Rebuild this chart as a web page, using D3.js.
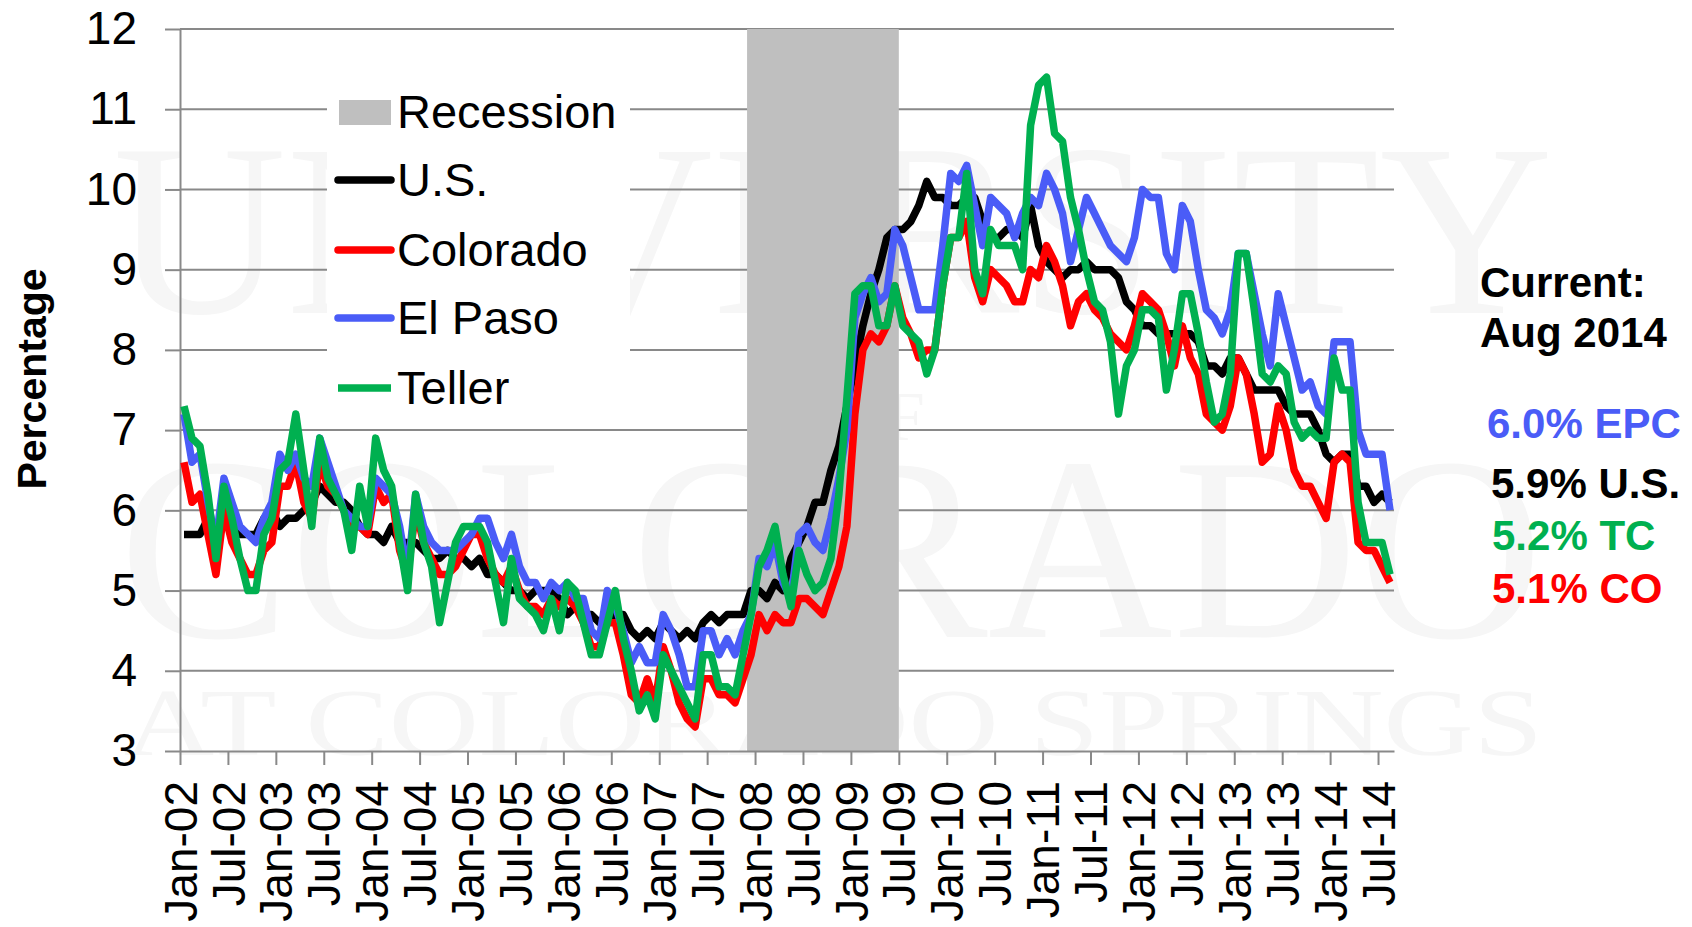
<!DOCTYPE html>
<html>
<head>
<meta charset="utf-8">
<script src="https://cdn.jsdelivr.net/npm/d3@7"></script>
<style>
  body { margin: 0; background: #fff; }
  svg { display: block; font-family: "Liberation Sans", Arial, sans-serif; }
</style>
</head>
<body>
<div id="chart"></div>
<script>
// month index 0 = Jan-02 ... 151 = Aug-14
const tickLabels = ["Jan-02", "Jul-02", "Jan-03", "Jul-03", "Jan-04", "Jul-04", "Jan-05", "Jul-05",
    "Jan-06", "Jul-06", "Jan-07", "Jul-07", "Jan-08", "Jul-08", "Jan-09", "Jul-09", "Jan-10", "Jul-10",
    "Jan-11", "Jul-11", "Jan-12", "Jul-12", "Jan-13", "Jul-13", "Jan-14", "Jul-14"];

const usRate = [
    5.7, 5.7, 5.7, 5.9, 5.8, 5.8, 5.8, 5.7, 5.7, 5.7, 5.9, 6.0,
    5.8, 5.9, 5.9, 6.0, 6.1, 6.3, 6.2, 6.1, 6.1, 6.0, 5.8, 5.7,
    5.7, 5.6, 5.8, 5.6, 5.6, 5.6, 5.5, 5.4, 5.4, 5.5, 5.4, 5.4,
    5.3, 5.4, 5.2, 5.2, 5.1, 5.0, 5.0, 4.9, 5.0, 5.0, 5.0, 4.9,
    4.7, 4.8, 4.7, 4.7, 4.6, 4.6, 4.7, 4.7, 4.5, 4.4, 4.5, 4.4,
    4.6, 4.5, 4.4, 4.5, 4.4, 4.6, 4.7, 4.6, 4.7, 4.7, 4.7, 5.0,
    5.0, 4.9, 5.1, 5.0, 5.4, 5.6, 5.8, 6.1, 6.1, 6.5, 6.8, 7.3,
    7.8, 8.3, 8.7, 9.0, 9.4, 9.5, 9.5, 9.6, 9.8, 10.1, 9.9, 9.9,
    9.8, 9.8, 9.9, 9.9, 9.6, 9.4, 9.4, 9.5, 9.5, 9.4, 9.8, 9.3,
    9.1, 9.0, 8.9, 9.0, 9.0, 9.1, 9.0, 9.0, 9.0, 8.9, 8.6, 8.5,
    8.3, 8.3, 8.2, 8.2, 8.2, 8.2, 8.2, 8.1, 7.8, 7.8, 7.7, 7.9,
    7.9, 7.7, 7.5, 7.5, 7.5, 7.5, 7.3, 7.2, 7.2, 7.2, 7.0, 6.7,
    6.6, 6.7, 6.7, 6.3, 6.3, 6.1, 6.2, 6.1
];

const coloradoRate = [
    6.6, 6.1, 6.2, 5.7, 5.2, 6.0, 5.6, 5.4, 5.2, 5.2, 5.5, 5.6,
    6.3, 6.3, 6.6, 6.1, 5.9, 6.6, 6.3, 6.2, 6.0, 5.8, 5.8, 5.7,
    6.3, 6.1, 6.2, 5.5, 5.2, 6.0, 5.6, 5.4, 5.2, 5.2, 5.3, 5.5,
    5.7, 5.7, 5.4, 5.2, 5.1, 5.3, 5.0, 4.8, 4.8, 4.7, 4.9, 4.8,
    4.9, 4.8, 4.6, 4.3, 4.3, 4.6, 4.6, 4.2, 3.7, 3.6, 3.9, 3.6,
    4.3, 4.0, 3.6, 3.4, 3.3, 3.9, 3.9, 3.7, 3.7, 3.6, 3.9, 4.2,
    4.7, 4.5, 4.7, 4.6, 4.6, 4.9, 4.9, 4.8, 4.7, 5.0, 5.3, 5.8,
    7.2, 8.0, 8.2, 8.1, 8.3, 8.8, 8.4, 8.2, 7.9, 8.0, 8.0, 8.8,
    9.4, 9.4, 9.6, 8.9, 8.6, 9.0, 8.9, 8.8, 8.6, 8.6, 9.0, 8.9,
    9.3, 9.1, 8.8, 8.3, 8.6, 8.7, 8.5, 8.4, 8.2, 8.1, 8.0, 8.3,
    8.7, 8.6, 8.5, 8.2, 7.8, 8.3, 7.9, 7.7, 7.2, 7.1, 7.0, 7.3,
    7.9, 7.7, 7.2, 6.6, 6.7, 7.3, 7.0, 6.5, 6.3, 6.3, 6.1, 5.9,
    6.6, 6.7, 6.6, 5.6, 5.5, 5.5, 5.3, 5.1
];

const elPasoRate = [
    7.2, 6.6, 6.7, 6.1, 5.6, 6.4, 6.1, 5.8, 5.7, 5.6, 5.9, 6.1,
    6.7, 6.5, 6.7, 6.4, 6.3, 6.9, 6.6, 6.3, 6.0, 5.9, 5.8, 5.8,
    6.4, 6.3, 6.2, 5.8, 5.2, 6.2, 5.8, 5.6, 5.5, 5.5, 5.5, 5.6,
    5.7, 5.9, 5.9, 5.6, 5.4, 5.7, 5.3, 5.1, 5.1, 4.9, 5.1, 5.0,
    5.1, 4.9, 4.9, 4.5, 4.4, 5.0, 4.8, 4.5, 4.1, 4.3, 4.1, 4.1,
    4.7, 4.5, 4.2, 3.8, 3.8, 4.5, 4.5, 4.2, 4.4, 4.2, 4.5, 4.7,
    5.4, 5.3, 5.6, 5.1, 4.9, 5.7, 5.8, 5.6, 5.5, 5.9, 6.4, 7.0,
    8.4, 8.7, 8.9, 8.6, 8.7, 9.5, 9.3, 8.9, 8.5, 8.5, 8.5, 9.3,
    10.2, 10.1, 10.3, 9.8, 9.3, 9.9, 9.8, 9.7, 9.4, 9.7, 9.9, 9.8,
    10.2, 10.0, 9.7, 9.1, 9.5, 9.9, 9.7, 9.5, 9.3, 9.2, 9.1, 9.4,
    10.0, 9.9, 9.9, 9.2, 9.0, 9.8, 9.6, 9.0, 8.5, 8.4, 8.2, 8.5,
    9.2, 9.2, 8.7, 8.2, 7.8, 8.7, 8.3, 7.9, 7.5, 7.6, 7.3, 7.2,
    8.1, 8.1, 8.1, 7.0, 6.7, 6.7, 6.7, 6.0
];

const tellerRate = [
    7.3, 6.9, 6.8, 6.2, 5.4, 6.3, 5.9, 5.4, 5.0, 5.0, 5.7, 5.9,
    6.5, 6.6, 7.2, 6.5, 5.8, 6.9, 6.4, 6.2, 6.0, 5.5, 6.3, 5.8,
    6.9, 6.5, 6.3, 5.6, 5.0, 6.2, 5.6, 5.3, 4.6, 5.1, 5.6, 5.8,
    5.8, 5.8, 5.6, 5.1, 4.6, 5.4, 4.9, 4.8, 4.7, 4.5, 4.9, 4.5,
    5.1, 5.0, 4.6, 4.2, 4.2, 4.6, 5.0, 4.4, 4.0, 3.5, 3.7, 3.4,
    4.2, 4.0, 3.8, 3.6, 3.4, 4.2, 4.2, 3.8, 3.8, 3.7, 4.2, 4.7,
    5.3, 5.5, 5.8, 5.2, 4.8, 5.5, 5.2, 5.0, 5.1, 5.4, 6.2, 7.4,
    8.7, 8.8, 8.8, 8.3, 8.3, 8.8, 8.3, 8.2, 8.1, 7.7, 8.0, 8.8,
    9.4, 9.4, 10.2, 9.0, 8.7, 9.5, 9.3, 9.3, 9.3, 9.0, 10.8, 11.3,
    11.4, 10.7, 10.6, 9.9, 9.5, 9.0, 8.6, 8.5, 8.1, 7.2, 7.8, 8.0,
    8.5, 8.5, 8.4, 7.5, 8.0, 8.7, 8.7, 8.2, 7.6, 7.1, 7.2, 7.7,
    9.2, 9.2, 8.5, 7.7, 7.6, 7.8, 7.7, 7.1, 6.9, 7.0, 6.9, 6.9,
    7.9, 7.5, 7.5, 6.1, 5.6, 5.6, 5.6, 5.2
];

// Dec-07 through Jun-09
const recessionMonths = [71, 89];

const seriesNames = ["U.S.", "Colorado", "El Paso", "Teller"];
const currentLabels = ["6.0% EPC", "5.9% U.S.", "5.2% TC", "5.1% CO"];

const colors = { us: "#000000", co: "#ff0000", ep: "#4a5cf7", tc: "#00b050" };
const series = [
    { name: seriesNames[0], values: usRate, color: colors.us },
    { name: seriesNames[1], values: coloradoRate, color: colors.co },
    { name: seriesNames[2], values: elPasoRate, color: colors.ep },
    { name: seriesNames[3], values: tellerRate, color: colors.tc }
];

const width = 1692, height = 927;
const gridColor = "#898989";

const svg = d3.select("#chart").append("svg")
    .attr("width", width)
    .attr("height", height);

svg.append("rect").attr("width", width).attr("height", height).attr("fill", "#fff");

// faint university watermark behind the chart
const mark = svg.append("g")
    .attr("fill", "#f6f6f6")
    .style("font-family", "'Liberation Serif', 'DejaVu Serif', serif");
mark.append("text").attr("x", 113).attr("y", 313).attr("font-size", 245)
    .attr("textLength", 1440).attr("lengthAdjust", "spacingAndGlyphs").text("UNIVERSITY");
mark.append("text").attr("x", 880).attr("y", 440).attr("font-size", 70)
    .attr("text-anchor", "middle").text("OF");
mark.append("text").attr("x", 119).attr("y", 637).attr("font-size", 262)
    .attr("textLength", 1424).attr("lengthAdjust", "spacingAndGlyphs").text("COLORADO");
mark.append("text").attr("x", 124).attr("y", 755).attr("font-size", 95)
    .attr("textLength", 1419).attr("lengthAdjust", "spacingAndGlyphs").text("AT COLORADO SPRINGS");

// one slot per month (Jan-02 .. Aug-14), points sit in the middle of their month
const x = d3.scaleLinear().domain([0, usRate.length]).range([180, 1394]);
const y = d3.scaleLinear().domain([3, 12]).range([751, 29]);

// gridlines
svg.append("g")
    .selectAll("line")
    .data(y.ticks(9).filter(d => d > 3))
    .join("line")
    .attr("x1", x.range()[0]).attr("x2", x.range()[1])
    .attr("y1", d => y(d)).attr("y2", d => y(d))
    .attr("stroke", gridColor)
    .attr("stroke-width", 2);

// recession band
svg.append("rect")
    .attr("x", x(recessionMonths[0]))
    .attr("width", x(recessionMonths[1] + 1) - x(recessionMonths[0]))
    .attr("y", y(12))
    .attr("height", y(3) - y(12))
    .attr("fill", "#bfbfbf");

// axes
const yaxis = d3.axisLeft(y).ticks(9).tickSize(15).tickSizeOuter(0).tickPadding(28);
const yg = svg.append("g")
    .attr("transform", `translate(${x(0)},0)`)
    .call(yaxis);
yg.selectAll("text").attr("font-size", 46).attr("fill", "#000")
    .style("font-family", "'Liberation Sans', Arial, sans-serif");

const xaxis = d3.axisBottom(x)
    .tickValues(d3.range(0, 151, 6))
    .tickFormat((d, i) => tickLabels[i])
    .tickSize(14)
    .tickSizeOuter(0);
const xg = svg.append("g")
    .attr("transform", `translate(0,${y(3)})`)
    .call(xaxis);
xg.selectAll("text")
    .attr("x", 0).attr("y", 0).attr("dy", "0.35em")
    .attr("text-anchor", "end")
    .attr("transform", "translate(0,30) rotate(-90)")
    .attr("font-size", 46).attr("fill", "#000")
    .style("font-family", "'Liberation Sans', Arial, sans-serif");

[yg, xg].forEach(g => {
    g.select(".domain").attr("stroke", gridColor).attr("stroke-width", 2);
    g.selectAll(".tick line").attr("stroke", gridColor).attr("stroke-width", 2);
});

// series lines
const line = d3.line()
    .x((d, i) => x(i + 0.5))
    .y(d => y(d));

svg.append("g")
    .selectAll("path")
    .data(series)
    .join("path")
    .attr("d", d => line(d.values))
    .attr("fill", "none")
    .attr("stroke", d => d.color)
    .attr("stroke-width", 7.5)
    .attr("stroke-linejoin", "round");

// axis title
svg.append("text")
    .attr("transform", "translate(32,379) rotate(-90)")
    .attr("text-anchor", "middle")
    .attr("dy", "0.35em")
    .attr("font-size", 41)
    .attr("font-weight", "bold")
    .text("Percentage");

// legend
const legend = svg.append("g");
legend.append("rect")
    .attr("x", 327).attr("y", 76).attr("width", 303).attr("height", 342)
    .attr("fill", "#fff");
legend.append("rect")
    .attr("x", 339).attr("y", 100).attr("width", 52).attr("height", 25)
    .attr("fill", "#bfbfbf");
legend.append("text")
    .attr("x", 397).attr("y", 112).attr("dy", "0.35em")
    .attr("font-size", 47).text("Recession");

const rowY = [180, 250, 318, 388];
series.forEach((s, i) => {
    legend.append("line")
        .attr("x1", 338).attr("x2", 391)
        .attr("y1", rowY[i]).attr("y2", rowY[i])
        .attr("stroke", s.color)
        .attr("stroke-width", 7.5)
        .attr("stroke-linecap", i === 3 ? "butt" : "round");
    legend.append("text")
        .attr("x", 397).attr("y", rowY[i]).attr("dy", "0.35em")
        .attr("font-size", 47).text(s.name);
});

// current values note
const note = svg.append("g").attr("font-weight", "bold").attr("font-size", 42);
note.append("text").attr("x", 1480).attr("y", 297).text("Current:");
note.append("text").attr("x", 1480).attr("y", 347).text("Aug 2014");

const noteRows = [
    { x: 1487, y: 438, color: colors.ep },
    { x: 1491, y: 498, color: colors.us },
    { x: 1492, y: 550, color: colors.tc },
    { x: 1492, y: 603, color: colors.co }
];
noteRows.forEach((r, i) => {
    note.append("text").attr("x", r.x).attr("y", r.y)
        .attr("fill", r.color).text(currentLabels[i]);
});
</script>
</body>
</html>
